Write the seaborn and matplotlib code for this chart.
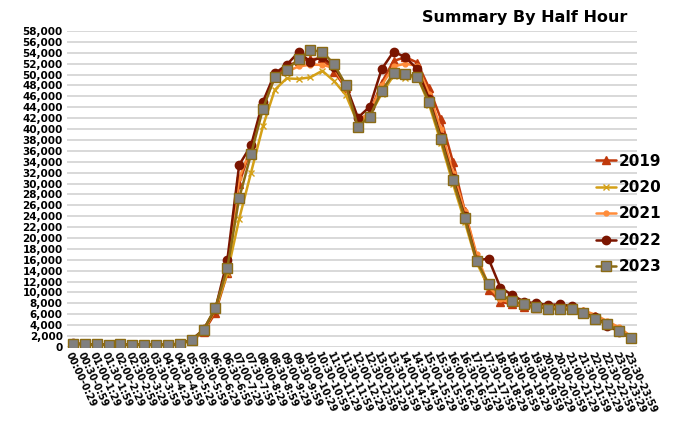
import matplotlib
matplotlib.use("Agg")
import matplotlib.pyplot as plt
import pandas as pd
import seaborn as sns

# half-hour slots, "00:00-0:29" ... "23:30-23:59"
slots = [f"{h:02d}:{m:02d}-{h}:{m + 29}" for h in range(24) for m in (0, 30)]

years = ["2019", "2020", "2021", "2022", "2023"]

vals_2019 = [650, 450, 450, 400, 450, 400, 400, 380, 400, 550, 1200, 2700,
             6300, 13500, 30000, 36500, 44500, 49500, 51500, 52500, 52800, 53000,
             50500, 47500, 41500, 43000, 48500, 52500, 53200, 52200, 47500, 41800,
             34000, 25000, 16500, 10500, 8300, 7800, 7400, 7200, 7300, 7500,
             7400, 6500, 5600, 4400, 3100, 1700]
vals_2020 = [600, 420, 420, 380, 420, 380, 380, 350, 380, 520, 1150, 2900,
             6800, 13500, 23500, 32000, 40500, 47200, 49300, 49200, 49500, 50700,
             48800, 46200, 41000, 42500, 46500, 49800, 49400, 49700, 44500, 37500,
             30000, 23000, 15500, 11000, 9000, 8000, 7600, 7300, 7100, 7200,
             7000, 6400, 5300, 4300, 3100, 1650]
vals_2021 = [650, 460, 460, 420, 460, 420, 420, 390, 420, 580, 1300, 3000,
             7000, 14500, 31000, 36500, 44000, 49500, 50500, 51500, 51800, 51800,
             51200, 47500, 41500, 43000, 48000, 51500, 52000, 51600, 46500, 40000,
             32000, 25000, 17000, 11200, 8800, 8000, 7700, 7500, 7400, 7800,
             7300, 6700, 5900, 4700, 3600, 1900]
vals_2022 = [650, 460, 460, 420, 460, 420, 420, 390, 420, 580, 1300, 3200,
             7000, 15900, 33400, 37000, 45000, 50200, 51800, 54100, 52400, 53300,
             51400, 48000, 42100, 44100, 51000, 54200, 53200, 51000, 45500, 38500,
             31000, 24000, 15900, 16200, 10900, 9500, 8300, 8000, 7700, 7800,
             7500, 6200, 5400, 3900, 2800, 1550]
vals_2023 = [620, 440, 440, 400, 440, 400, 400, 370, 400, 550, 1300, 3100,
             7200, 14500, 27300, 35400, 43700, 49600, 50900, 52800, 54500, 54200,
             51900, 48000, 40400, 42300, 47000, 50200, 50100, 49600, 45000, 38100,
             30600, 23700, 15800, 11600, 9650, 8400, 7800, 7350, 7000, 6870,
             6870, 6250, 5040, 4120, 2940, 1600]

df = pd.DataFrame({"slot": range(len(slots)),
                   "2019": vals_2019, "2020": vals_2020, "2021": vals_2021,
                   "2022": vals_2022, "2023": vals_2023})
long = df.melt(id_vars="slot", var_name="year", value_name="count")

styles = {
    "2019": dict(color="#c0390b", marker="^", ms=5.5, mec="#c0390b", mfc="#c0390b"),
    "2020": dict(color="#d4a017", marker="x", ms=4, mec="#d4a017", mfc="#d4a017"),
    "2021": dict(color="#ff8c3a", marker="o", ms=3.5, mec="#ff8c3a", mfc="#ff8c3a"),
    "2022": dict(color="#7b1500", marker="o", ms=6, mec="#7b1500", mfc="#7b1500"),
    "2023": dict(color="#8b6b14", marker="s", ms=7, mec="#8b6b14", mfc="#808080"),
}

sns.set_style("white")
plt.rcParams["font.family"] = ["DejaVu Sans"]
plt.rcParams["text.color"] = "black"
plt.rcParams["xtick.color"] = "black"
plt.rcParams["ytick.color"] = "black"

fig = plt.figure(figsize=(6.74, 4.22), dpi=100)
ax = fig.add_axes([0.0994, 0.178, 0.8456, 0.7485])

for yr in years:
    st = styles[yr]
    sns.lineplot(data=long[long["year"] == yr], x="slot", y="count", ax=ax,
                 color=st["color"], marker=st["marker"], markersize=st["ms"],
                 markeredgecolor=st["mec"], markerfacecolor=st["mfc"],
                 markeredgewidth=1.0, linewidth=1.8, label=yr, zorder=3)

ax.set_xlim(-0.5, len(slots) - 0.5)
ax.set_ylim(0, 58000)
ax.set_yticks(range(0, 58001, 2000))
ax.set_yticklabels([f"{v:,}" for v in range(0, 58001, 2000)],
                   fontsize=7.5, fontweight="bold")
ax.set_xticks(range(len(slots)))
ax.set_xticklabels(slots, rotation=-65, ha="left", va="top",
                   rotation_mode="anchor", fontsize=7, fontweight="bold")
ax.tick_params(axis="both", length=0, pad=3, colors="black")
ax.grid(axis="y", color="#d2d2d2", linewidth=1.2)
ax.set_axisbelow(True)
for s in ax.spines.values():
    s.set_visible(False)
ax.set_xlabel("")
ax.set_ylabel("")

fig.text(0.779, 0.958, "Summary By Half Hour", ha="center", va="center",
         fontsize=11.5, fontweight="bold", color="black")

ax.legend(loc="center left", bbox_to_anchor=(0.875, 0.493),
          bbox_transform=fig.transFigure, frameon=False,
          prop={"size": 11, "weight": "bold"}, handlelength=1.3,
          handletextpad=0.2, labelspacing=0.75, borderaxespad=0)

fig.savefig("out.png", dpi=100)
